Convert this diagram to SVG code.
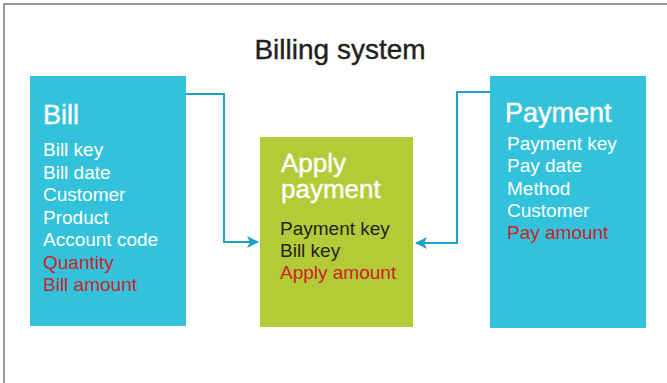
<svg xmlns="http://www.w3.org/2000/svg" width="667" height="383" viewBox="0 0 667 383">
  <style>
    text { font-family: "Liberation Sans", Arial, sans-serif; }
    .frame { fill: none; stroke: #7a7a7a; stroke-width: 1.5; }
    .title { font-size: 28px; fill: #231f20; stroke: #231f20; stroke-width: 0.4; }
    .box-blue { fill: #33c2dc; }
    .box-green { fill: #b3cb37; }
    .head { font-size: 27px; fill: #ffffff; stroke: #ffffff; stroke-width: 0.4; }
    .head-sm { font-size: 26px; }
    .item { font-size: 19px; fill: #ffffff; }
    .dark { fill: #231f20; }
    .red { fill: #cc2229; }
    .link { fill: none; stroke: #1aa3c9; stroke-width: 2; }
  </style>
  <defs>
    <marker id="arrow" viewBox="0 0 12 12" refX="11" refY="6" markerWidth="12" markerHeight="12" markerUnits="userSpaceOnUse" orient="auto">
      <path d="M0,0 L12,6 L0,12 L3,6 Z" fill="#1aa3c9"/>
    </marker>
  </defs>

  <rect width="667" height="383" fill="#ffffff"/>
  <path class="frame" d="M4,390 V4 H672"/>

  <text class="title" x="340" y="59" text-anchor="middle">Billing system</text>

  <g id="connectors">
    <path class="link" d="M186,94 H224 V242 H258" marker-end="url(#arrow)"/>
    <path class="link" d="M490,92 H457 V243 H416" marker-end="url(#arrow)"/>
  </g>

  <g id="bill">
    <rect class="box-blue" x="30" y="76" width="156" height="250"/>
    <text class="head" x="43" y="124">Bill</text>
    <text class="item" x="43" y="156">Bill key</text>
    <text class="item" x="43" y="178.5">Bill date</text>
    <text class="item" x="43" y="201">Customer</text>
    <text class="item" x="43" y="223.5">Product</text>
    <text class="item" x="43" y="246">Account code</text>
    <text class="item red" x="43" y="268.5">Quantity</text>
    <text class="item red" x="43" y="291">Bill amount</text>
  </g>

  <g id="apply-payment">
    <rect class="box-green" x="260" y="137" width="153" height="190"/>
    <text class="head head-sm" x="281" y="172">Apply</text>
    <text class="head head-sm" x="281" y="197.5">payment</text>
    <text class="item dark" x="280" y="235">Payment key</text>
    <text class="item dark" x="280" y="257">Bill key</text>
    <text class="item red" x="280" y="279">Apply amount</text>
  </g>

  <g id="payment">
    <rect class="box-blue" x="490" y="76" width="156" height="252"/>
    <text class="head" x="505" y="122">Payment</text>
    <text class="item" x="507" y="150">Payment key</text>
    <text class="item" x="507" y="172">Pay date</text>
    <text class="item" x="507" y="194.5">Method</text>
    <text class="item" x="507" y="216.5">Customer</text>
    <text class="item red" x="507" y="239">Pay amount</text>
  </g>
</svg>
